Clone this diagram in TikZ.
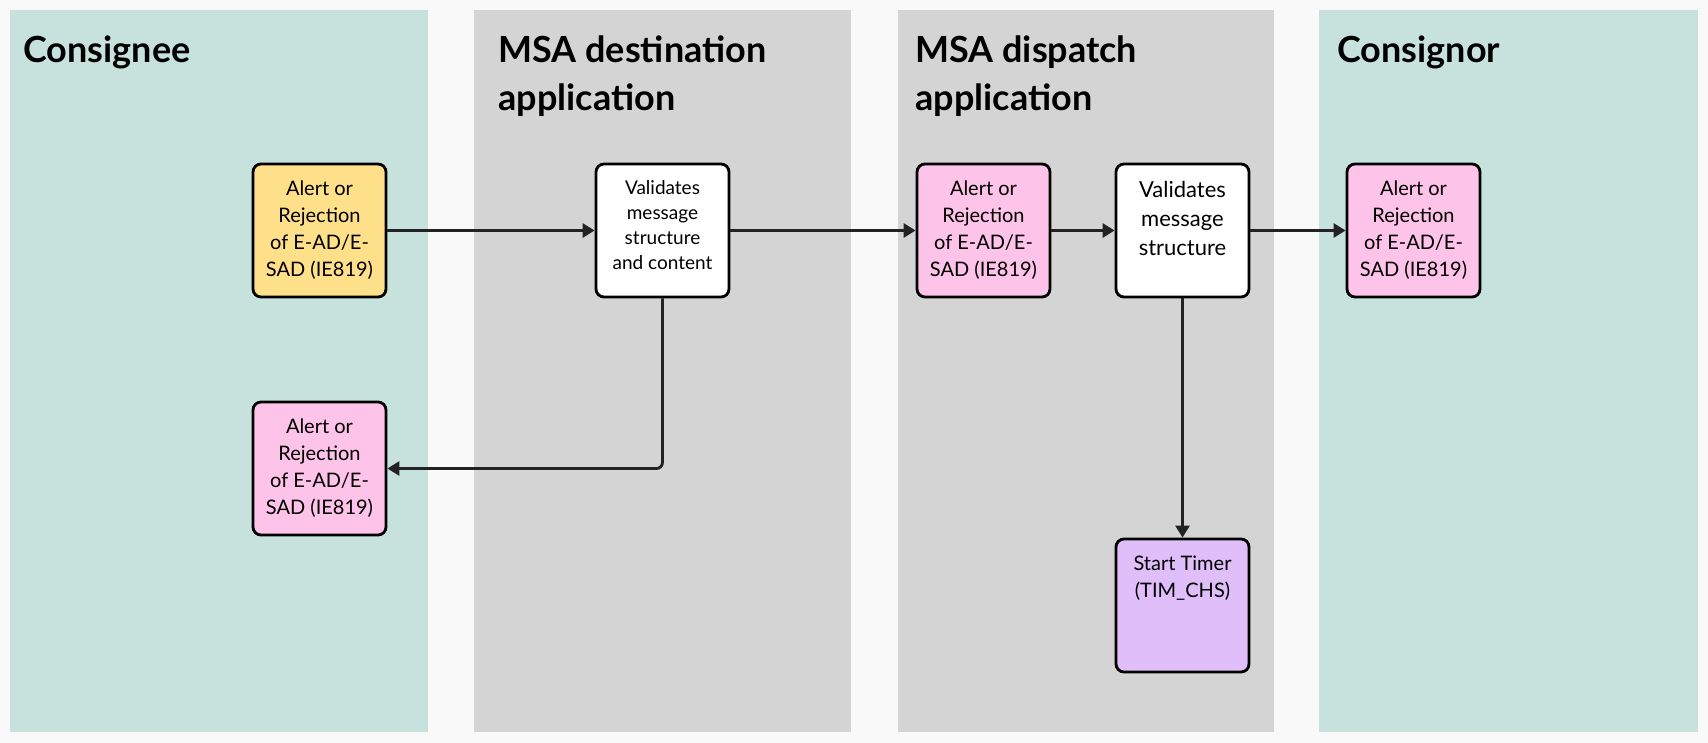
\documentclass[tikz,border=0pt]{standalone}
\usepackage{fontspec}
\setmainfont{Lato}
\usetikzlibrary{arrows.meta}

\definecolor{pagebg}{RGB}{249,249,249}
\definecolor{laneteal}{RGB}{199,226,221}
\definecolor{lanegrey}{RGB}{212,212,212}
\definecolor{stepyellow}{RGB}{255,224,138}
\definecolor{steppink}{RGB}{254,195,232}
\definecolor{steppurple}{RGB}{224,190,250}
\definecolor{inkdark}{RGB}{34,34,34}

\newcommand{\boxtext}[3][10pt]{\parbox[c][49.5pt][t]{64pt}{\centering\fontsize{#1}{#2}\selectfont #3}}

\tikzset{
  lanetitle/.style={anchor=base west, align=left, inner sep=0pt, font=\fontsize{18}{24}\selectfont\bfseries},
  stepbox/.style={draw=black, line width=1.4pt, rounded corners=4pt, fill=white,
    minimum width=66.5pt, minimum height=66.5pt, inner sep=0pt},
  conn/.style={draw=inkdark, line width=1.4pt, -{Triangle[length=6pt,width=7pt]}}
}

\begin{document}
\begin{tikzpicture}[x=0.5pt, y=-0.5pt]
\useasboundingbox (0,0) rectangle (1708,743);
\fill[pagebg] (0,0) rectangle (1708,743);
\fill[laneteal] (10,10) rectangle (428,732);
\fill[lanegrey] (474,10) rectangle (851,732);
\fill[lanegrey] (898,10) rectangle (1274,732);
\fill[laneteal] (1319,10) rectangle (1698,732);

\node[lanetitle] (tconsignee) at (23,63) {Consignee};
\node[lanetitle] (tdest) at (498,111) {MSA destination\\application};
\node[lanetitle] (tdisp) at (915,111) {MSA dispatch\\application};
\node[lanetitle] (tconsignor) at (1337,63) {Consignor};

\node[stepbox, fill=stepyellow] (alertin) at (319.5,230.5) {\boxtext{13.4pt}{Alert or\\Rejection\\of E-AD/E-\\SAD (IE819)}};
\node[stepbox] (valdest) at (662.5,230.5) {\boxtext[9.5pt]{12.5pt}{Validates\\message\\structure\\and content}};
\node[stepbox, fill=steppink] (alertback) at (319.5,468.5) {\boxtext{13.4pt}{Alert or\\Rejection\\of E-AD/E-\\SAD (IE819)}};
\node[stepbox, fill=steppink] (alertdisp) at (983.5,230.5) {\boxtext{13.4pt}{Alert or\\Rejection\\of E-AD/E-\\SAD (IE819)}};
\node[stepbox] (valdisp) at (1182.5,230.5) {\boxtext[11pt]{14.5pt}{Validates\\message\\structure}};
\node[stepbox, fill=steppink] (alertout) at (1413.5,230.5) {\boxtext{13.4pt}{Alert or\\Rejection\\of E-AD/E-\\SAD (IE819)}};
\node[stepbox, fill=steppurple] (timer) at (1182.5,605.5) {\boxtext{13.4pt}{Start Timer\\(TIM\_CHS)}};

\draw[conn] (alertin) -- (valdest);
\draw[conn, rounded corners=3pt] (valdest) |- (alertback);
\draw[conn] (valdest) -- (alertdisp);
\draw[conn] (alertdisp) -- (valdisp);
\draw[conn] (valdisp) -- (alertout);
\draw[conn] (valdisp) -- (timer);
\end{tikzpicture}
\end{document}
